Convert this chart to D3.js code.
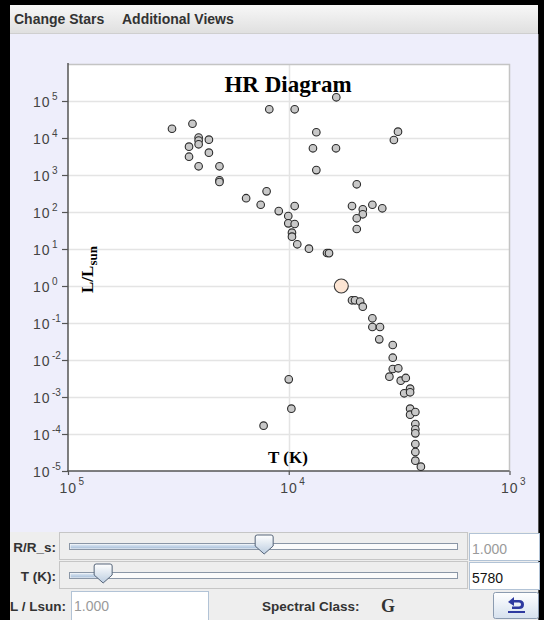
<!DOCTYPE html>
<html><head><meta charset="utf-8">
<script src="https://cdn.jsdelivr.net/npm/d3@7"></script>
<style>body{margin:0;background:#000;} svg{display:block;}</style>
</head><body><svg id="c" width="544" height="620"></svg>
<script>
// ---- data ----
const starTemps = [33800,27300,25600,25600,23000,28300,25600,23000,28300,25600,20600,20600,20600,
  15600,12600,13400,11100,9400,10050,10050,9400,9670,9670,9150,8100,6710,6570,
  12250,9400,6090,7500,7770,6110,7500,4920,3340,3200,
  5170,4620,4620,4920,4180,3770,4920,
  5170,5010,4750,4620,4180,4180,3860,3890,3380,3380,3380,3190,3500,3110,2950,3000,2820,2820,2820,2820,
  2670,2670,2670,2670,2670,2670,2670,2520,
  10000,9730,13000];
const starLums = [17800,24300,10300,8560,9000,5820,6760,4010,3120,1720,1720,719,647,
  236,362,157,106,145,78,49.5,47.4,27.6,21.5,13.4,10.2,7.8,7.7,
  59700,59700,126000,14300,5270,5270,1360,561,8830,14800,
  145,118,86.7,67.6,157,126,34.7,
  0.411,0.411,0.381,0.276,0.134,0.078,0.078,0.0362,0.0254,0.01153,0.00571,0.00597,0.00354,0.00276,0.00327,0.00126,0.00168,0.00134,0.000483,0.000333,
  0.000393,0.000186,0.000134,0.000104,0.0000537,0.0000327,0.0000190,0.0000131,
  0.0030,0.000483,0.000168];
const sunTemp = 5780, sunLum = 1;
const yTickExps = [-5,-4,-3,-2,-1,0,1,2,3,4,5];
const xTickExps = [5,4,3];
const menuItems = ["Change Stars", "Additional Views"];
const sliderLabels = ["R/R_s:", "T (K):"];
const sliderFieldTexts = ["1.000", "5780"];
const sliderFracs = [0.503, 0.088];
const lumText = "1.000";
const spectralClass = "G";

// ---- drawing ----
const svg = d3.select("#c");
const sans = "'Liberation Sans', Arial, sans-serif";
const serif = "'Liberation Serif', 'Times New Roman', serif";
const defs = svg.append("defs");
const mg = defs.append("linearGradient").attr("id","menuG").attr("x1",0).attr("y1",0).attr("x2",0).attr("y2",1);
mg.append("stop").attr("offset","0").attr("stop-color","#f7f7f7");
mg.append("stop").attr("offset","1").attr("stop-color","#e0e0e0");
const tg = defs.append("linearGradient").attr("id","thumbG").attr("x1",0).attr("y1",0).attr("x2",0).attr("y2",1);
tg.append("stop").attr("offset","0").attr("stop-color","#ffffff");
tg.append("stop").attr("offset","1").attr("stop-color","#bccde0");
const bg = defs.append("linearGradient").attr("id","btnG").attr("x1",0).attr("y1",0).attr("x2",0).attr("y2",1);
bg.append("stop").attr("offset","0").attr("stop-color","#ffffff");
bg.append("stop").attr("offset","1").attr("stop-color","#d6e1ee");
const trg = defs.append("linearGradient").attr("id","trackG").attr("x1",0).attr("y1",0).attr("x2",0).attr("y2",1);
trg.append("stop").attr("offset","0").attr("stop-color","#dbe6f2");
trg.append("stop").attr("offset","1").attr("stop-color","#a9c0da");

// frame
svg.append("rect").attr("x",0).attr("y",0).attr("width",544).attr("height",620).attr("fill","#000");
svg.append("rect").attr("x",10).attr("y",5).attr("width",528).attr("height",28).attr("fill","url(#menuG)");
svg.append("line").attr("x1",10).attr("x2",538).attr("y1",33.5).attr("y2",33.5).attr("stroke","#cfcfcf");
svg.append("rect").attr("x",10).attr("y",34).attr("width",528).attr("height",498).attr("fill","#eeeefb");
svg.append("rect").attr("x",10).attr("y",532).attr("width",528).attr("height",88).attr("fill","#eeeeee");
svg.append("line").attr("x1",538.5).attr("x2",538.5).attr("y1",34).attr("y2",620).attr("stroke","#555");

// menu
menuItems.forEach((t,i) => {
  svg.append("text").attr("x", i===0 ? 14 : 122).attr("y", 24)
    .attr("font-family", sans).attr("font-weight","bold").attr("font-size",14).attr("fill","#333").text(t);
});

// plot
const x = d3.scaleLog().domain([1e5, 1e3]).range([68, 509.5]);
const y = d3.scaleLog().domain([1e-5, 1e6]).range([471, 64]);
const yTicks = yTickExps.map(e => Math.pow(10, e));
const xTicks = xTickExps.map(e => Math.pow(10, e));

svg.append("rect").attr("x",68).attr("y",64).attr("width",x(1e3)-68).attr("height",471-64).attr("fill","#fff");
// grid
svg.append("g").selectAll("line").data(yTicks.filter(d => d > 1e-5)).join("line")
  .attr("x1",68).attr("x2",x(1e3)).attr("y1",d => Math.round(y(d))+0.5).attr("y2",d => Math.round(y(d))+0.5)
  .attr("stroke","#e4e4e4").attr("stroke-width",1.5);
svg.append("g").selectAll("line").data([1e4]).join("line")
  .attr("x1",d => Math.round(x(d))+0.5).attr("x2",d => Math.round(x(d))+0.5).attr("y1",64).attr("y2",471)
  .attr("stroke","#e4e4e4").attr("stroke-width",1.5);
// border top/right
svg.append("path").attr("d",`M68,64.5H${x(1e3)}V471`).attr("fill","none").attr("stroke","#c4c4c4").attr("stroke-width",1.5);

// title & labels
svg.append("text").attr("x",288).attr("y",92).attr("text-anchor","middle").attr("font-family",serif)
  .attr("font-weight","bold").attr("font-size",23).attr("fill","#000").text("HR Diagram");
svg.append("text").attr("x",288).attr("y",463).attr("text-anchor","middle").attr("font-family",serif)
  .attr("font-weight","bold").attr("font-size",17).attr("fill","#000").text("T (K)");
const yl = svg.append("text").attr("transform","translate(93,293) rotate(-90)").attr("font-family",serif)
  .attr("font-weight","bold").attr("font-size",17).attr("fill","#000");
yl.append("tspan").text("L/L");
yl.append("tspan").attr("font-size",13).attr("dy",4).text("sun");

// axes
const yAxis = svg.append("g").attr("transform","translate(68,0)")
  .call(d3.axisLeft(y).tickValues(yTicks).tickSize(6).tickSizeOuter(0));
const xAxis = svg.append("g").attr("transform","translate(0,471)")
  .call(d3.axisBottom(x).tickValues(xTicks).tickSize(4).tickSizeOuter(0));
[yAxis, xAxis].forEach(g => {
  g.select(".domain").attr("stroke","#555").attr("stroke-width",1.5);
  g.selectAll(".tick line").attr("stroke","#555").attr("stroke-width",1.2);
});
yAxis.select(".domain").attr("d","M0,63V471.5");
xAxis.select(".domain").attr("d",`M67.25,0H${x(1e3)}`);
yAxis.selectAll(".tick text").each(function(d){
  const t = d3.select(this).text(null).attr("x",null).attr("dy",null).attr("text-anchor","start")
    .attr("font-family",sans).attr("fill","#444");
  t.append("tspan").attr("x",-35).attr("y",5).attr("font-size",14).attr("letter-spacing",1).text("10");
  t.append("tspan").attr("x",-16).attr("y",-2).attr("font-size",10).text(Math.round(Math.log10(d)));
});
xAxis.selectAll(".tick text").each(function(d){
  const t = d3.select(this).text(null).attr("y",null).attr("dy",null).attr("text-anchor","start")
    .attr("font-family",sans).attr("fill","#444");
  t.append("tspan").attr("x",-9).attr("y",22).attr("font-size",14).attr("letter-spacing",1).text("10");
  t.append("tspan").attr("x",10).attr("y",14).attr("font-size",10).text(Math.round(Math.log10(d)));
});

// stars
const stars = starTemps.map((t,i) => ({T:t, L:starLums[i]}));
svg.append("g").selectAll("circle").data(stars).join("circle")
  .attr("cx", d => x(d.T)).attr("cy", d => y(d.L)).attr("r",3.8)
  .attr("fill","#c8c8c8").attr("stroke","#2b2b2b").attr("stroke-width",1.1);
svg.append("circle").attr("cx",x(sunTemp)).attr("cy",y(sunLum)).attr("r",7)
  .attr("fill","#fde5d3").attr("stroke","#3a3a3a").attr("stroke-width",1.1);

// ---- controls ----
const trackX = d3.scaleLinear().domain([0,1]).range([69, 457]);
const rowTops = [532, 561];
sliderLabels.forEach((lab,i) => {
  const top = rowTops[i];
  svg.append("text").attr("x",56).attr("y",top+20).attr("text-anchor","end").attr("font-family",sans)
    .attr("font-weight","bold").attr("font-size",13.5).attr("fill","#333").text(lab);
  svg.append("rect").attr("x",59.5).attr("y",top+0.5).attr("width",408).attr("height",27)
    .attr("fill","#eeeeee").attr("stroke","#c6c6c6");
  const ty = top + 11;
  svg.append("rect").attr("x",trackX(0)+0.5).attr("y",ty+0.5).attr("width",trackX(1)-trackX(0)).attr("height",6)
    .attr("fill","#fbfbfb").attr("stroke","#8a96a6");
  const tx = trackX(sliderFracs[i]);
  svg.append("rect").attr("x",trackX(0)+1.5).attr("y",ty+1.5).attr("width",tx-trackX(0)-1).attr("height",4)
    .attr("fill","url(#trackG)");
  svg.append("path").attr("d",`M${tx-9},${top+5}Q${tx-9},${top+3} ${tx-7},${top+3}H${tx+7}Q${tx+9},${top+3} ${tx+9},${top+5}V${top+14}L${tx},${top+22}L${tx-9},${top+14}Z`)
    .attr("fill","url(#thumbG)").attr("stroke","#56657a").attr("stroke-width",1);
  svg.append("rect").attr("x",469.5).attr("y",top+1.5).attr("width",70).attr("height",27)
    .attr("fill","#fff").attr("stroke","#b2c3d6");
  svg.append("text").attr("x",472).attr("y",top+22).attr("font-family",sans).attr("font-size",14)
    .attr("fill", i===0 ? "#9a9a9a" : "#111").text(sliderFieldTexts[i]);
});
// last row
svg.append("text").attr("x",10).attr("y",611).attr("font-family",sans).attr("font-weight","bold")
  .attr("font-size",13.5).attr("fill","#333").text("L / Lsun:");
svg.append("rect").attr("x",71.5).attr("y",591.5).attr("width",137).attr("height",30).attr("fill","#fff").attr("stroke","#b2c3d6");
svg.append("text").attr("x",74).attr("y",611).attr("font-family",sans).attr("font-size",14).attr("fill","#9a9a9a").text(lumText);
svg.append("text").attr("x",262).attr("y",611).attr("font-family",sans).attr("font-weight","bold")
  .attr("font-size",13.5).attr("fill","#333").text("Spectral Class:");
svg.append("text").attr("x",381).attr("y",612).attr("font-family",serif).attr("font-weight","bold")
  .attr("font-size",18).attr("fill","#333").text(spectralClass);
svg.append("rect").attr("x",493.5).attr("y",592.5).attr("width",45).attr("height",26).attr("rx",2)
  .attr("fill","url(#btnG)").attr("stroke","#8b9bb0");
svg.append("path").attr("d","M508,602 L514,597 L514,600 H519 Q524,600 524,604.5 Q524,609 519,609 H512 V606.5 H519 Q521,606.5 521,604.5 Q521,602.5 519,602.5 H514 V606 Z")
  .attr("fill","#2e3aa0");
svg.append("rect").attr("x",508).attr("y",611).attr("width",17).attr("height",2).attr("fill","#2e3aa0");
</script></body></html>
